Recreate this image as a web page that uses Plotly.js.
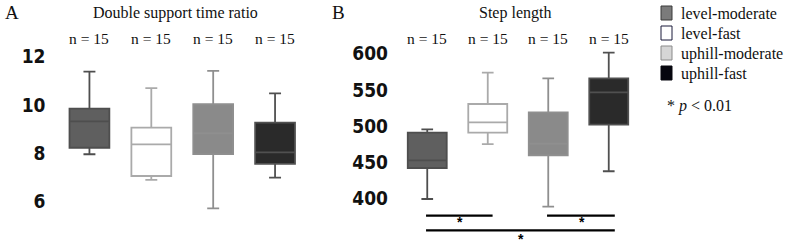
<!DOCTYPE html>
<html><head><meta charset="utf-8">
<script src="https://cdn.plot.ly/plotly-3.0.1.min.js"></script>
<style>html,body{margin:0;padding:0;background:#fff;}#chart{width:788px;height:247px;}</style>
</head><body><div id="chart"></div>
<script>
// Conditions
const categories = ['level-moderate','level-fast','uphill-moderate','uphill-fast'];
const nLabels = ['n = 15','n = 15','n = 15','n = 15'];
// Panel A: Double support time ratio
const dsLower  = [7.96, 6.90, 5.72, 6.99];
const dsQ1     = [8.23, 7.06, 7.97, 7.56];
const dsMedian = [9.32, 8.37, 8.83, 8.04];
const dsQ3     = [9.85, 9.06, 10.03, 9.27];
const dsUpper  = [11.38, 10.70, 11.41, 10.48];
const dsTicks  = [6, 8, 10, 12];
// Panel B: Step length
const slLower  = [398.9, 475.0, 388.2, 437.3];
const slQ1     = [441.8, 490.7, 459.4, 501.8];
const slMedian = [452.5, 505.1, 475.5, 546.7];
const slQ3     = [490.7, 530.5, 519.0, 566.0];
const slUpper  = [495.4, 573.8, 566.0, 601.5];
const slTicks  = [400, 450, 500, 550, 600];

const fills = ['#5f5f5f', '#ffffff', '#8a8a8a', '#2a2a2a'];
const lines = ['#4e4e4e', '#aaaaaa', '#8f8f8f', '#505050'];
const legendFills = ['#7b7b7b', '#ffffff', '#d6d6d6', '#06060f'];
const legendLines = ['#3a3a3a', '#1a1a3a', '#8a8a8a', '#06060f'];

const W = 788, H = 247;
const px = v => v / W, py = v => 1 - v / H;

const traces = [];
function addBoxes(xa, ya, lo, q1, med, q3, up) {
  for (let i = 0; i < categories.length; i++) {
    traces.push({
      type: 'box', x: [categories[i]], lowerfence: [lo[i]], q1: [q1[i]], median: [med[i]],
      q3: [q3[i]], upperfence: [up[i]], xaxis: xa, yaxis: ya,
      fillcolor: fills[i], line: {color: lines[i], width: 1.8},
      whiskerwidth: 0.3, boxpoints: false, showlegend: false, hoverinfo: 'skip'
    });
  }
}
addBoxes('x', 'y', dsLower, dsQ1, dsMedian, dsQ3, dsUpper);
addBoxes('x2', 'y2', slLower, slQ1, slMedian, slQ3, slUpper);

const serif = 'Liberation Serif, Times New Roman, serif';
const tickFont = {family: 'Liberation Sans Narrow, DejaVu Sans Condensed, Arial, sans-serif', size: 19, color: '#111', weight: 'bold'};

const annotations = [];
const shapes = [];
function txt(x, y, text, size, xref, extra) {
  annotations.push(Object.assign({x: x, y: y, xref: xref || 'paper', yref: 'paper', text: text,
    showarrow: false, xanchor: 'center', yanchor: 'middle', font: {family: serif, size: size, color: '#111111'}}, extra || {}));
}
txt(px(12), py(13), 'A', 19);
txt(px(338), py(13), 'B', 19);
txt(px(175), py(13), 'Double support time ratio', 16);
txt(px(515), py(13), 'Step length', 16);
for (let i = 0; i < categories.length; i++) {
  txt(categories[i], py(38), nLabels[i], 15.5, 'x');
  txt(categories[i], py(38), nLabels[i], 15.5, 'x2');
}
// Legend
for (let i = 0; i < categories.length; i++) {
  const cy = 13 + 20 * i;
  shapes.push({type: 'rect', xref: 'paper', yref: 'paper', x0: px(661), x1: px(672), y0: py(cy - 7), y1: py(cy + 7),
    fillcolor: legendFills[i], line: {color: legendLines[i], width: 1}});
  txt(px(679), py(cy + 1), categories[i], 16, 'paper', {xanchor: 'left'});
}
txt(px(665), py(106), '* <i>p</i> < 0.01', 16, 'paper', {xanchor: 'left'});
// Significance bars (step length)
const sig = [[0, 1.08, 215.7, 222], [2, 3.1, 215.7, 222], [0, 3.1, 230.3, 238.5]];
sig.forEach(s => {
  shapes.push({type: 'line', xref: 'x2', yref: 'paper', x0: s[0] - 0.02, x1: s[1], y0: py(s[2]), y1: py(s[2]),
    line: {color: '#000000', width: 2.2}});
  annotations.push({x: (s[0] + s[1]) / 2, y: py(s[3]), xref: 'x2', yref: 'paper', text: '<b>*</b>', showarrow: false,
    xanchor: 'center', yanchor: 'middle', font: {family: 'Liberation Sans, Arial, sans-serif', size: 14, color: '#000000'}});
});

function xax(d, anchor) {
  return {domain: d, anchor: anchor, type: 'category', categoryarray: categories, range: [-0.5, 3.5],
    showticklabels: false, showgrid: false, zeroline: false, showline: false, ticks: ''};
}
function yax(r, tv, standoff, anchor) {
  return {domain: [py(212), py(45)], anchor: anchor, range: r, tickvals: tv, showgrid: false, zeroline: false,
    showline: false, ticks: '', tickfont: tickFont, ticklabelstandoff: standoff};
}
const layout = {
  width: W, height: H, margin: {l: 0, r: 0, t: 0, b: 0},
  paper_bgcolor: '#fff', plot_bgcolor: '#fff', showlegend: false,
  boxmode: 'overlay', boxgap: 0.08,
  xaxis: xax([px(58.5), px(306)], 'y'),
  yaxis: yax([8 - (212 - 153.3) / 24.17, 8 + (153.3 - 45) / 24.17], dsTicks, 12, 'x'),
  xaxis2: xax([px(397), px(639)], 'y2'),
  yaxis2: yax([500 - (212 - 126) / 0.722, 500 + (126 - 45) / 0.722], slTicks, 8, 'x2'),
  annotations: annotations, shapes: shapes
};
Plotly.newPlot('chart', traces, layout, {displayModeBar: false, staticPlot: true});
</script></body></html>
